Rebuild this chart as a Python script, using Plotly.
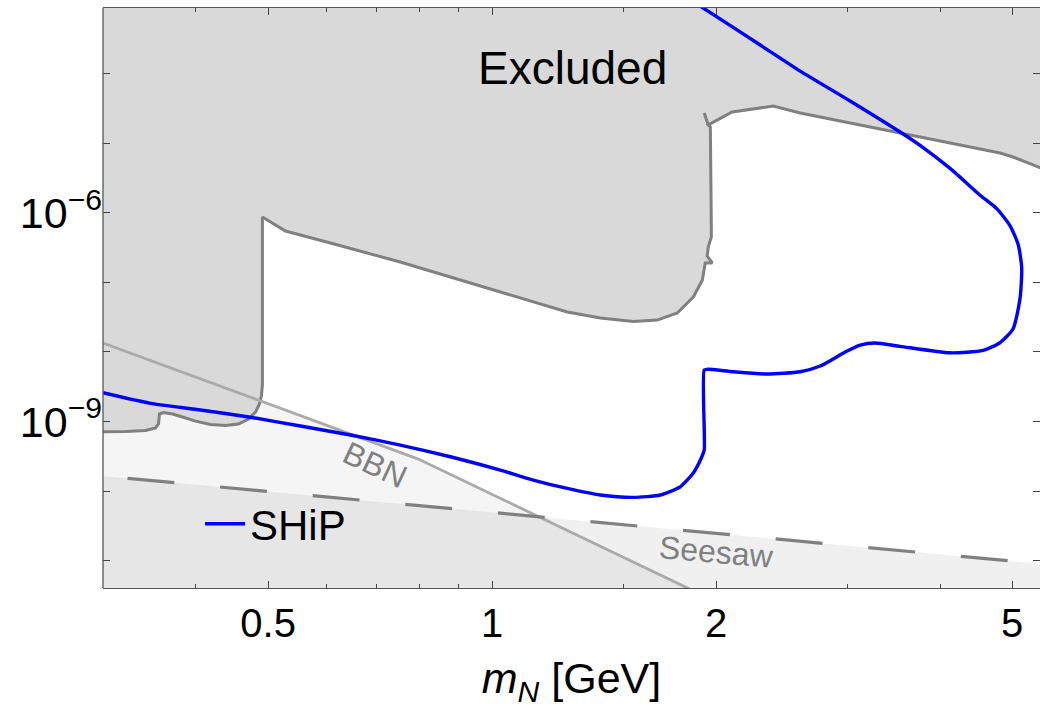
import numpy as np
import plotly.graph_objects as go

# ---------------- data ----------------
# lower edge of the excluded region: m_N [GeV], U^2
excl_m = [0.29, 0.3218, 0.3422, 0.3530, 0.3562, 0.3573, 0.3618, 0.3721, 0.3837, 0.3995,
          0.4183, 0.4384, 0.4561, 0.4707, 0.4809, 0.4868, 0.4898, 0.4913, 0.4913, 0.5277,
          0.6065, 0.7528, 0.9351, 1.136, 1.262, 1.398, 1.548, 1.667, 1.774, 1.864,
          1.917, 1.934, 1.977, 1.946, 1.952, 1.971, 1.971, 1.965, 1.952, 2.102,
          2.387, 2.595, 3.222, 4.126, 4.817, 5.013, 5.452, 5.6]
excl_u2 = [7.05e-10, 7.16e-10, 7.41e-10, 8.05e-10, 9.19e-10, 1.28e-9, 1.34e-9, 1.28e-9, 1.16e-9, 1.01e-9,
           9.03e-10, 8.73e-10, 9.19e-10, 1.08e-9, 1.36e-9, 1.78e-9, 2.32e-9, 3.33e-9, 8.65e-7, 5.44e-7,
           3.66e-7, 1.95e-7, 9.75e-8, 5.20e-8, 3.74e-8, 3.06e-8, 2.73e-8, 2.86e-8, 3.61e-8, 6.14e-8,
           1.08e-7, 1.89e-7, 1.89e-7, 2.38e-7, 3.21e-7, 4.47e-7, 6.21e-7, 1.70e-5, 1.82e-5, 2.79e-5,
           3.40e-5, 2.70e-5, 1.70e-5, 9.84e-6, 7.19e-6, 6.30e-6, 4.43e-6, 3.96e-6]
# short spur of the exclusion contour near 2 GeV
spur_m = [1.952, 1.928]
spur_u2 = [1.82e-5, 2.70e-5]

# SHiP sensitivity contour
ship_m = [0.3, 0.3477, 0.4057, 0.4734, 0.5527, 0.6452, 0.7528, 0.8790, 1.026, 1.136,
          1.262, 1.398, 1.548, 1.683, 1.790, 1.864, 1.914, 1.928, 1.928, 1.946,
          2.109, 2.343, 2.595, 2.761, 2.982, 3.124, 3.272, 3.535, 4.126, 4.569,
          4.817, 5.013, 5.123, 5.150, 5.096, 4.968, 4.767, 4.528, 4.126, 3.760,
          3.535, 3.028, 2.595, 2.293, 1.922, 1.846]
ship_u2 = [2.59e-9, 1.82e-9, 1.46e-9, 1.15e-9, 8.59e-10, 6.38e-10, 4.58e-10, 3.11e-10, 2.00e-10, 1.44e-10,
           1.09e-10, 8.77e-11, 8.12e-11, 8.77e-11, 1.15e-10, 1.82e-10, 3.11e-10, 3.88e-10, 5.48e-9, 5.61e-9,
           5.18e-9, 4.80e-9, 5.18e-9, 6.25e-9, 9.93e-9, 1.25e-8, 1.34e-8, 1.20e-8, 9.68e-9, 1.05e-8,
           1.36e-8, 2.13e-8, 5.83e-8, 1.60e-7, 3.43e-7, 6.47e-7, 1.14e-6, 1.78e-6, 4.32e-6, 9.25e-6,
           1.44e-5, 4.02e-5, 1.08e-4, 2.56e-4, 8.71e-4, 1.15e-3]

# BBN bound
bbn_m = [0.3, 0.796, 1.905]
bbn_u2 = [1.34e-8, 2.88e-10, 3.3e-12]

# seesaw line (U^2 ~ 1/m)
seesaw_m = [0.243, 5.6]
seesaw_u2 = [2.03e-10, 8.8e-12]

# tick values / labels
x_major = [0.5, 1, 2, 5]
x_major_text = ["0.5", "1", "2", "5"]
x_minor = [0.4, 0.6, 0.7, 0.8, 0.9, 1.5, 3, 4]
y_major = [1e-6, 1e-9]
y_major_text = ["10<sup>\u22126</sup>", "10<sup>\u22129</sup>"]
y_minor = [1e-11, 1e-10, 1e-8, 1e-7, 1e-5, 1e-4]

X_RANGE = [0.3, 5.45]
Y_RANGE = [10 ** -11.393, 10 ** -3.06]
FLOOR, CEIL = 1e-13, 1e-2

FONT = "Liberation Sans, Arial, Helvetica, sans-serif"

# ---------------- figure ----------------
fig = go.Figure()

# BBN shaded region (below the BBN line)
fig.add_trace(go.Scatter(
    x=bbn_m + [bbn_m[-1], bbn_m[0]], y=bbn_u2 + [FLOOR, FLOOR],
    fill="toself", fillcolor="rgba(0,0,0,0.04)", mode="lines", line=dict(width=0),
    hoverinfo="skip", showlegend=False))
# seesaw shaded region (below the seesaw line)
fig.add_trace(go.Scatter(
    x=seesaw_m + [seesaw_m[-1], seesaw_m[0]], y=seesaw_u2 + [FLOOR, FLOOR],
    fill="toself", fillcolor="rgba(0,0,0,0.06)", mode="lines", line=dict(width=0),
    hoverinfo="skip", showlegend=False))
# excluded region
fig.add_trace(go.Scatter(
    x=excl_m + [excl_m[-1], excl_m[0]], y=excl_u2 + [CEIL, CEIL],
    fill="toself", fillcolor="#d9d9d9", mode="lines", line=dict(width=0),
    hoverinfo="skip", showlegend=False))
# exclusion contour
fig.add_trace(go.Scatter(x=excl_m, y=excl_u2, mode="lines",
                         line=dict(color="#808080", width=3), showlegend=False))
fig.add_trace(go.Scatter(x=spur_m, y=spur_u2, mode="lines",
                         line=dict(color="#808080", width=3), showlegend=False))
# BBN line
fig.add_trace(go.Scatter(x=bbn_m, y=bbn_u2, mode="lines",
                         line=dict(color="#aaaaaa", width=2.8), showlegend=False))
# seesaw dashed line
fig.add_trace(go.Scatter(x=seesaw_m, y=seesaw_u2, mode="lines",
                         line=dict(color="#808080", width=3.2, dash="47px,46px"), showlegend=False))
# SHiP
fig.add_trace(go.Scatter(x=ship_m, y=ship_u2, mode="lines", name="SHiP",
                         line=dict(color="#0000ff", width=3.4, shape="spline", smoothing=0.6),
                         showlegend=True))

# labels
fig.add_annotation(x=np.log10(1.282), y=np.log10(1.20e-4), text="Excluded", showarrow=False,
                   font=dict(family=FONT, size=46, color="black"))
fig.add_annotation(x=np.log10(0.697), y=np.log10(2.37e-10), text="BBN", showarrow=False,
                   textangle=25, font=dict(family=FONT, size=32, color="#808080"))
fig.add_annotation(x=np.log10(2.002), y=np.log10(1.33e-11), text="Seesaw", showarrow=False,
                   textangle=5, font=dict(family=FONT, size=32, color="#808080"))

# left frame line (y-axis line drawn separately so that only ticks are mirrored)
fig.add_shape(type="line", xref="paper", yref="paper", x0=0, x1=0, y0=0, y1=1,
              line=dict(color="#555555", width=1.3), layer="above")

fig.update_layout(
    width=1040, height=708,
    margin=dict(l=103, r=0, t=8, b=120),
    paper_bgcolor="white", plot_bgcolor="white",
    font=dict(family=FONT, color="black"),
    showlegend=True,
    legend=dict(x=(200 - 103) / 937, y=(588 - 524) / 580, xanchor="left", yanchor="middle",
                bgcolor="rgba(0,0,0,0)", font=dict(size=42, family=FONT), itemwidth=40),
    xaxis=dict(type="log", range=[np.log10(X_RANGE[0]), np.log10(X_RANGE[1])],
               tickmode="array", tickvals=x_major, ticktext=x_major_text,
               ticks="inside", ticklen=7, tickwidth=1.2, tickcolor="#444444",
               showline=True, linecolor="#555555", linewidth=1.3, mirror="ticks",
               showgrid=False, zeroline=False,
               minor=dict(tickmode="array", tickvals=x_minor, ticks="inside", ticklen=4,
                          tickwidth=1.2, tickcolor="#444444", showgrid=False),
               tickfont=dict(size=40, family=FONT, color="black"),
               title=dict(text="<i>m</i><sub><i>N</i></sub> [GeV]", font=dict(size=43, family=FONT),
                          standoff=22)),
    yaxis=dict(type="log", range=[np.log10(Y_RANGE[0]), np.log10(Y_RANGE[1])],
               tickmode="array", tickvals=y_major, ticktext=y_major_text,
               ticks="inside", ticklen=7, tickwidth=1.2, tickcolor="#444444",
               showline=False, mirror="ticks",
               showgrid=False, zeroline=False,
               minor=dict(tickmode="array", tickvals=y_minor, ticks="inside", ticklen=7,
                          tickwidth=1.2, tickcolor="#444444", showgrid=False),
               tickfont=dict(size=43, family=FONT, color="black")),
)

fig.write_html("out.html")
